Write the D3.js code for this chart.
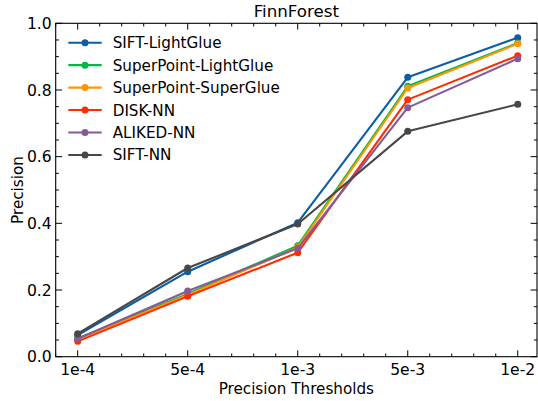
<!DOCTYPE html>
<html><head><meta charset="utf-8">
<script src="https://cdn.jsdelivr.net/npm/d3@7"></script>
<style>
html,body{margin:0;padding:0;background:#fff;}
text{font-family:"DejaVu Sans",sans-serif;fill:#000;}
</style></head>
<body><svg id="c" width="538" height="401"></svg>
<script>
const categories = ["1e-4","5e-4","1e-3","5e-3","1e-2"];
const seriesNames = ["SIFT-LightGlue","SuperPoint-LightGlue","SuperPoint-SuperGlue","DISK-NN","ALIKED-NN","SIFT-NN"];
const siftLightGlue = [0.065,0.255,0.402,0.838,0.957];
const superPointLightGlue = [0.055,0.188,0.333,0.811,0.941];
const superPointSuperGlue = [0.052,0.185,0.328,0.806,0.939];
const diskNN = [0.046,0.181,0.312,0.771,0.903];
const alikedNN = [0.054,0.197,0.325,0.747,0.894];
const siftNN = [0.069,0.266,0.398,0.676,0.757];
const colors = ["#0C5DA5","#00B945","#FF9500","#FF2C00","#845B97","#474747"];
const yTicks = [0,0.2,0.4,0.6,0.8,1.0];
const seriesValues = [siftLightGlue,superPointLightGlue,superPointSuperGlue,diskNN,alikedNN,siftNN];

const svg = d3.select("#c");
const L=55.7, R=537, T=23.3, B=356.7;
const x = d3.scaleLinear().domain([-0.2,4.175]).range([L,R]);
const y = d3.scaleLinear().domain([0,1]).range([B,T]);
const fs = 15.2, tfs = 15.6;

// minor ticks
const xMinor = d3.range(-0.2+0.0001, 4.175, 0.2).map(v=>Math.round(v*10)/10).filter(v=>Math.abs(v-Math.round(v))>1e-6);
const yMinor = d3.range(0.05,1,0.05).filter(v=>Math.abs(v*5-Math.round(v*5))>1e-6);
const tg = svg.append("g").attr("stroke","#000").attr("stroke-width",1);
const maj=6.4, mn=3.2;
categories.forEach((c,i)=>{
  tg.append("line").attr("x1",x(i)).attr("x2",x(i)).attr("y1",B).attr("y2",B-maj);
  tg.append("line").attr("x1",x(i)).attr("x2",x(i)).attr("y1",T).attr("y2",T+maj);
});
xMinor.forEach(v=>{
  tg.append("line").attr("x1",x(v)).attr("x2",x(v)).attr("y1",B).attr("y2",B-mn);
  tg.append("line").attr("x1",x(v)).attr("x2",x(v)).attr("y1",T).attr("y2",T+mn);
});
yTicks.forEach(v=>{
  tg.append("line").attr("x1",L).attr("x2",L+maj).attr("y1",y(v)).attr("y2",y(v));
  tg.append("line").attr("x1",R).attr("x2",R-maj).attr("y1",y(v)).attr("y2",y(v));
});
yMinor.forEach(v=>{
  tg.append("line").attr("x1",L).attr("x2",L+mn).attr("y1",y(v)).attr("y2",y(v));
  tg.append("line").attr("x1",R).attr("x2",R-mn).attr("y1",y(v)).attr("y2",y(v));
});

// lines
const line = d3.line().x((d,i)=>x(i)).y(d=>y(d));
seriesValues.forEach((vals,k)=>{
  const g = svg.append("g");
  g.append("path").datum(vals).attr("d",line).attr("fill","none")
    .attr("stroke",colors[k]).attr("stroke-width",2.1).attr("stroke-linejoin","round");
  g.selectAll("circle").data(vals).join("circle")
    .attr("cx",(d,i)=>x(i)).attr("cy",d=>y(d)).attr("r",3.5).attr("fill",colors[k]);
});

// frame
svg.append("rect").attr("x",L).attr("y",T).attr("width",R-L).attr("height",B-T)
  .attr("fill","none").attr("stroke","#000").attr("stroke-width",1.1);

// tick labels
categories.forEach((c,i)=>{
  svg.append("text").attr("x",x(i)).attr("y",374.5).attr("text-anchor","middle")
    .attr("font-size",tfs).text(c);
});
yTicks.forEach(v=>{
  svg.append("text").attr("x",L-4).attr("y",y(v)).attr("dy","0.36em").attr("text-anchor","end")
    .attr("font-size",tfs).text(v.toFixed(1));
});

// labels
svg.append("text").attr("x",(L+R)/2).attr("y",394).attr("text-anchor","middle").attr("font-size",fs).text("Precision Thresholds");
svg.append("text").attr("transform",`translate(23,${(T+B)/2}) rotate(-90)`).attr("text-anchor","middle").attr("font-size",fs).text("Precision");
svg.append("text").attr("x",(L+R)/2).attr("y",17).attr("text-anchor","middle").attr("font-size",16.7).text("FinnForest");

// legend
const lg = svg.append("g");
seriesNames.forEach((n,k)=>{
  const yy = 42.7 + k*22.45;
  lg.append("line").attr("x1",68.3).attr("x2",101.7).attr("y1",yy).attr("y2",yy).attr("stroke",colors[k]).attr("stroke-width",2.1);
  lg.append("circle").attr("cx",85).attr("cy",yy).attr("r",3.5).attr("fill",colors[k]);
  lg.append("text").attr("x",112.7).attr("y",yy).attr("dy","0.36em").attr("font-size",fs).text(n);
});
</script></body></html>
